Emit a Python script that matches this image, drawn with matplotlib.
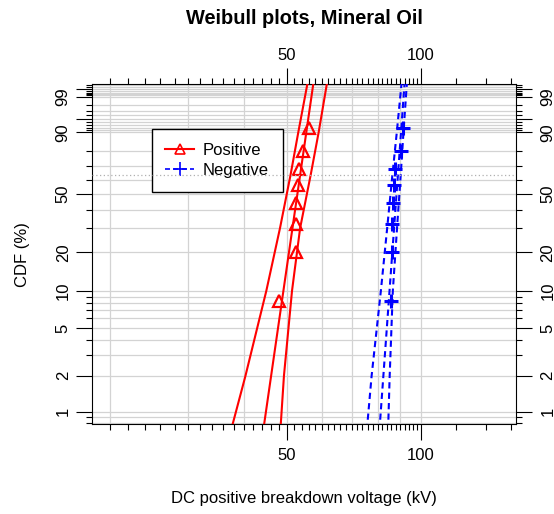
import numpy as np
import matplotlib
matplotlib.use("Agg")
import matplotlib.pyplot as plt
from matplotlib.lines import Line2D
from matplotlib.ticker import FixedLocator, FixedFormatter, NullFormatter
from matplotlib.transforms import ScaledTranslation

plt.rcParams['font.family'] = ['Liberation Sans', 'DejaVu Sans']
plt.rcParams['font.size'] = 12

# median-rank plotting positions (%) for the 8 breakdowns of each polarity
rank_pct = [8.33, 20.24, 32.14, 44.05, 55.95, 67.86, 79.76, 91.67]
pos_kv = [48.1, 52.5, 52.5, 52.6, 53.1, 53.3, 54.3, 56.2]
neg_kv = [85.6, 86.4, 86.4, 86.8, 87.1, 87.5, 90.2, 91.2]

# fitted Weibull lines and their confidence bounds
fit_pct = [0.7, 99.8]
pos_fit = [44.3, 57.5]
neg_fit = [80.8, 92.1]
bound_pct = [0.7, 2, 10, 30, 63.2, 90, 99.8]
pos_lower = [37.5, 40.4, 45.0, 48.3, 51.0, 53.1, 55.8]
pos_upper = [48.4, 49.3, 51.4, 53.6, 56.6, 59.0, 61.7]
neg_lower = [75.7, 77.6, 81.4, 84.1, 86.4, 88.4, 90.7]
neg_upper = [84.5, 85.2, 86.6, 88.5, 90.2, 91.5, 93.2]

# axis ticks and grid
x_major = [50, 100]
x_minor = list(range(20, 100, 2)) + [120, 140, 160]
x_grid = [20, 30, 40, 50, 60, 70, 80, 90, 100]
y_major = [1, 2, 5, 10, 20, 50, 90, 95, 99, 99.5]
y_labels = ['1', '2', '5', '10', '20', '50', '90', '', '99', '']
y_minor = [0.8, 0.9, 3, 4, 6, 7, 8, 9, 30, 40, 60, 70, 80,
           91, 92, 93, 94, 96, 97, 98, 99.1, 99.2, 99.3, 99.4, 99.6, 99.7]
char_life = 63.2


def weib(p):
    p = np.clip(np.asarray(p, dtype=float), 1e-6, 100 - 1e-6)
    return np.log(-np.log(1 - p / 100))


def weib_inv(w):
    return 100 * (1 - np.exp(-np.exp(w)))


fig = plt.figure(figsize=(5.54, 5.14), dpi=100)
ax = fig.add_axes([92 / 554, 90 / 514, 424 / 554, 340 / 514])
ax.set_xscale('log')
ax.set_yscale('function', functions=(weib, weib_inv))
ax.set_xlim(18.26, 163.8)
ax.set_ylim(0.788, 99.723)

gcol = '#d3d3d3'
for v in x_grid:
    ax.axvline(v, color=gcol, lw=0.9, zorder=1)
for p in y_major + y_minor:
    ax.axhline(p, color=gcol, lw=0.9, zorder=1)
ax.axhline(char_life, color='#b0b0b0', lw=0.9, ls=(0, (1, 2)), zorder=6)

# positive polarity
ax.plot(pos_fit, fit_pct, color='red', lw=1.5, zorder=3)
ax.plot(pos_lower, bound_pct, color='red', lw=1.5, zorder=3)
ax.plot(pos_upper, bound_pct, color='red', lw=1.5, zorder=3)
ax.plot(pos_kv, rank_pct, ls='none', marker='^', mfc='none', mec='red',
        ms=8, mew=1.6, zorder=4)

# negative polarity
dash = (0, (3, 2))
ax.plot(neg_fit, fit_pct, color='blue', lw=1.5, ls=dash, zorder=3)
ax.plot(neg_lower, bound_pct, color='blue', lw=1.5, ls=dash, zorder=3)
ax.plot(neg_upper, bound_pct, color='blue', lw=1.5, ls=dash, zorder=3)
ax.plot(neg_kv, rank_pct, ls='none', marker='+', color='blue',
        ms=10, mew=2.2, zorder=4)

handles = [Line2D([], [], color='red', lw=1.5, marker='^', mfc='none', ms=7, mew=1.2),
           Line2D([], [], color='blue', lw=1.2, ls=dash, marker='+', ms=10, mew=1.2)]
leg = ax.legend(handles, ['Positive', 'Negative'], loc='upper left',
                bbox_to_anchor=(0.1408, 0.8668), borderaxespad=0, fontsize=12,
                fancybox=False, framealpha=1, edgecolor='black',
                borderpad=0.82, handlelength=1.7, handletextpad=0.55,
                labelspacing=0.32)
leg.get_frame().set_linewidth(1.0)
leg.set_zorder(5)

ax.xaxis.set_major_locator(FixedLocator(x_major))
ax.xaxis.set_major_formatter(FixedFormatter([str(v) for v in x_major]))
ax.xaxis.set_minor_locator(FixedLocator(x_minor))
ax.xaxis.set_minor_formatter(NullFormatter())
ax.yaxis.set_major_locator(FixedLocator(y_major))
ax.yaxis.set_major_formatter(FixedFormatter(y_labels))
ax.yaxis.set_minor_locator(FixedLocator(y_minor))
ax.yaxis.set_minor_formatter(NullFormatter())

ax.tick_params(which='both', direction='out', top=True, right=True,
               labeltop=True, labelright=True, width=0.8, colors='black')
ax.tick_params(which='major', length=11.5, pad=6, labelsize=12)
ax.tick_params(which='minor', length=4)
ax.tick_params(axis='y', labelrotation=90)
for t in ax.get_yticklabels():
    t.set_va('center')
for s in ax.spines.values():
    s.set_linewidth(0.8)

# nudge left and top labels a little closer to the frame
nudge_r = ScaledTranslation(3 / 100, 0, fig.dpi_scale_trans)
nudge_d = ScaledTranslation(0, -3 / 100, fig.dpi_scale_trans)
for t in ax.yaxis.get_major_ticks():
    t.label1.set_transform(t.label1.get_transform() + nudge_r)
for t in ax.xaxis.get_major_ticks():
    t.label2.set_transform(t.label2.get_transform() + nudge_d)

fig.text(304 / 554, 1 - 18 / 514, 'Weibull plots, Mineral Oil', ha='center',
         va='center', fontsize=14.4, fontweight='bold')
fig.text(304 / 554, 1 - 499 / 514, 'DC positive breakdown voltage (kV)',
         ha='center', va='center', fontsize=12)
fig.text(22 / 554, 1 - 255 / 514, 'CDF (%)', rotation=90, ha='center',
         va='center', fontsize=12)

fig.savefig('out.png', dpi=100)
